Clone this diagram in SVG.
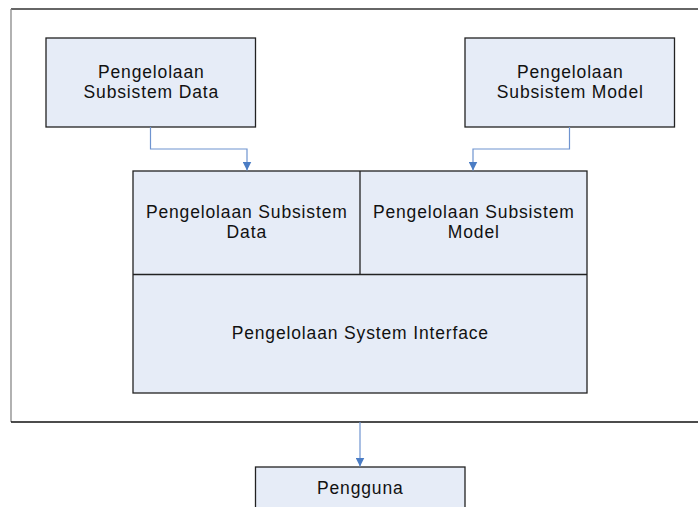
<svg xmlns="http://www.w3.org/2000/svg" width="698" height="507" viewBox="0 0 698 507">
  <style>
    .box { fill: #e6ecf7; stroke: #222; stroke-width: 1.3; }
    .lbl { font-family: "Liberation Sans", Arial, sans-serif; font-size: 17.5px; letter-spacing: 0.85px; fill: #111; text-anchor: middle; }
    .wire { fill: none; stroke: #6f94d0; stroke-width: 1.2; marker-end: url(#arrow); }
  </style>
  <defs>
    <marker id="arrow" viewBox="0 0 10 10" refX="10" refY="5" markerWidth="9" markerHeight="9" markerUnits="userSpaceOnUse" orient="auto">
      <path d="M0,0 L10,5 L0,10 Z" fill="#4a7cc4"/>
    </marker>
  </defs>
  <rect width="698" height="507" fill="#fff"/>

  <!-- outer frame (open on the right) -->
  <g id="frame">
    <line x1="11" y1="9" x2="698" y2="9" stroke="#333" stroke-width="1.3"/>
    <line x1="11" y1="9" x2="11" y2="422" stroke="#888" stroke-width="1.3"/>
    <line x1="11" y1="422" x2="698" y2="422" stroke="#111" stroke-width="1.3"/>
  </g>

  <g id="top-data">
    <rect class="box" x="46" y="38" width="209.5" height="89"/>
    <text class="lbl" x="151.3" y="77.5">Pengelolaan</text>
    <text class="lbl" x="151.3" y="97.5">Subsistem Data</text>
  </g>

  <g id="top-model">
    <rect class="box" x="465" y="38" width="209.5" height="89"/>
    <text class="lbl" x="570.3" y="77.5">Pengelolaan</text>
    <text class="lbl" x="570.3" y="97.5">Subsistem Model</text>
  </g>

  <g id="core">
    <rect class="box" x="133" y="171" width="454" height="222"/>
    <line x1="360" y1="171" x2="360" y2="274.5" stroke="#222" stroke-width="1.3"/>
    <line x1="133" y1="274.5" x2="587" y2="274.5" stroke="#222" stroke-width="1.3"/>
  </g>

  <g id="core-data">
    <text class="lbl" x="246.8" y="217.5">Pengelolaan Subsistem</text>
    <text class="lbl" x="246.8" y="237.5">Data</text>
  </g>

  <g id="core-model">
    <text class="lbl" x="473.8" y="217.5">Pengelolaan Subsistem</text>
    <text class="lbl" x="473.8" y="237.5">Model</text>
  </g>

  <g id="core-interface">
    <text class="lbl" x="360.3" y="338.5">Pengelolaan System Interface</text>
  </g>

  <g id="pengguna">
    <rect class="box" x="255.5" y="467" width="209.5" height="60"/>
    <text class="lbl" x="360.3" y="494">Pengguna</text>
  </g>

  <g id="connectors">
    <path class="wire" d="M150.5,127 V149 H247 V170.5"/>
    <path class="wire" d="M569.5,127 V149 H473 V170.5"/>
    <path class="wire" d="M360,422 V466.5"/>
  </g>
</svg>
